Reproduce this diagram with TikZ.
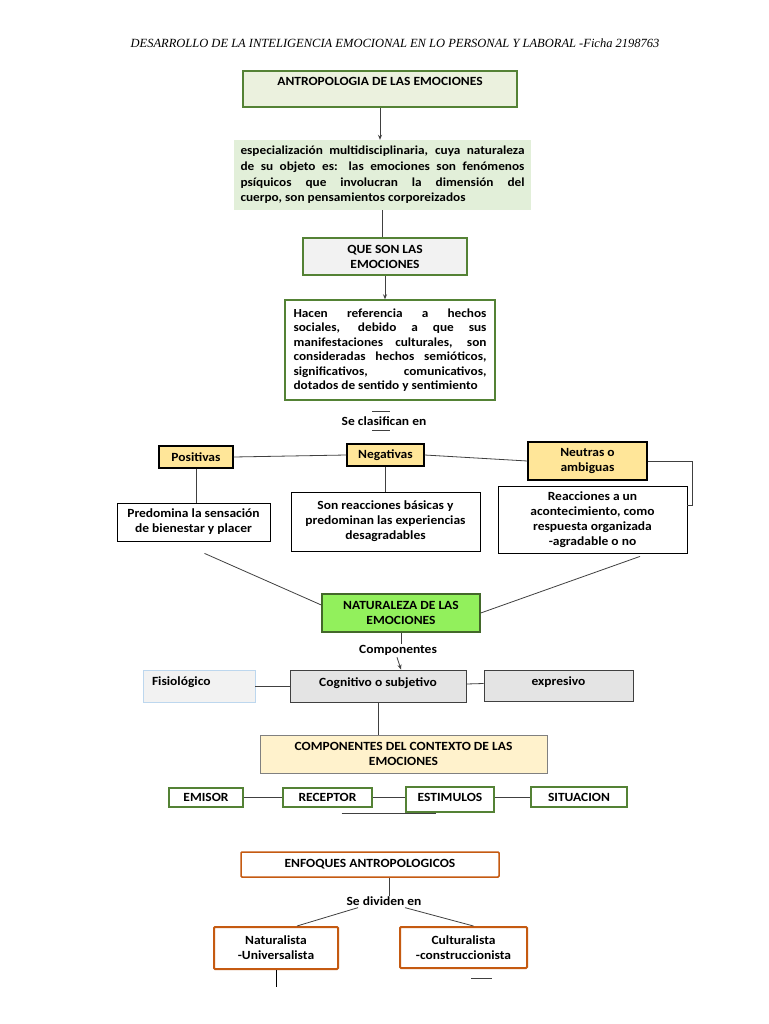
\documentclass[tikz,border=0pt]{standalone}
\usepackage{fontspec}
\setmainfont{Carlito}[FakeStretch=1.08]
\newfontfamily\headfont{Liberation Serif}
\usetikzlibrary{arrows.meta}
\definecolor{boxgreen}{HTML}{548235}
\definecolor{antrofill}{HTML}{EBF1DE}
\definecolor{objfill}{HTML}{E2EFD9}
\definecolor{grayfill}{HTML}{F2F2F2}
\definecolor{yellowfill}{HTML}{FFE699}
\definecolor{brightgreen}{HTML}{92F05C}
\definecolor{cogfill}{HTML}{E4E4E4}
\definecolor{fisioline}{HTML}{BDD7EE}
\definecolor{contextfill}{HTML}{FFF2CC}
\definecolor{orangeline}{HTML}{C55A11}
\definecolor{linegray}{HTML}{404040}
\begin{document}
\begin{tikzpicture}[x=1pt,y=-1pt,
    every node/.style={font=\bfseries\fontsize{12.5}{15}\selectfont,inner sep=2pt}]
    \tikzstyle{gbox}=[draw=boxgreen,line width=1.4pt,align=center]
    \tikzstyle{ybox}=[draw=black,line width=1.4pt,fill=yellowfill,align=center]
    \tikzstyle{wbox}=[draw=black,line width=0.8pt,fill=white,align=center]
    \tikzstyle{cbox}=[draw=linegray,line width=0.9pt,fill=cogfill,align=center]
    \tikzstyle{obox}=[draw=orangeline,line width=2pt,rounded corners=1pt,align=center]
    \tikzstyle{conn}=[draw=linegray,line width=0.8pt]
    \tikzstyle{arr}=[conn,-{Stealth[length=5pt,width=4pt]}]
    \useasboundingbox[fill=white] (0,0) rectangle (768,1024);
    \node[font=\headfont\itshape\fontsize{12.5}{14}\selectfont] (title) at (395,43)
        {DESARROLLO DE LA INTELIGENCIA EMOCIONAL EN LO PERSONAL Y LABORAL -Ficha 2198763};
    \node[gbox,fill=antrofill,minimum width=274,minimum height=36,text height=9pt,text depth=16pt] (antro) at (380,89) {ANTROPOLOGIA DE LAS EMOCIONES};
    \node[fill=objfill,minimum width=297,minimum height=70,text width=284,align=justify,
        font=\bfseries\fontsize{12.3}{15.6}\selectfont] (objeto) at (382.5,175)
        {especialización multidisciplinaria, cuya naturaleza\linebreak de su objeto es: las emociones son fenómenos\linebreak psíquicos que involucran la dimensión del\linebreak cuerpo, son pensamientos corporeizados};
    \node[gbox,fill=grayfill,minimum width=164,minimum height=37] (queson) at (385,256.5) {QUE SON LAS\\EMOCIONES};
    \node[gbox,fill=white,minimum width=210,minimum height=100,text width=193,align=justify,
        font=\bfseries\fontsize{12.3}{14.5}\selectfont] (hacen) at (390,350)
        {Hacen referencia a hechos\linebreak sociales, debido a que sus\linebreak manifestaciones culturales, son\linebreak consideradas hechos semióticos,\linebreak significativos, comunicativos,\linebreak dotados de sentido y sentimiento};
    \node (clasif) at (384,421) {Se clasifican en};
    \node[ybox,minimum width=74,minimum height=22] (posit) at (196,457) {Positivas};
    \node[ybox,minimum width=77,minimum height=22] (negat) at (385.5,455) {Negativas};
    \node[ybox,minimum width=119,minimum height=38] (neutr) at (587.5,461) {Neutras o\\ambiguas};
    \node[wbox,minimum width=153,minimum height=38] (predom) at (193.5,522) {Predomina la sensación\\de bienestar y placer};
    \node[wbox,minimum width=189,minimum height=59] (basicas) at (385.5,521.5) {Son reacciones básicas y\\predominan las experiencias\\desagradables};
    \node[wbox,minimum width=189,minimum height=67] (reacc) at (592.5,519.5) {Reacciones a un\\acontecimiento, como\\respuesta organizada\\-agradable o no};
    \node[gbox,draw=boxgreen!80!black,fill=brightgreen,minimum width=158,minimum height=38] (natur) at (401,613) {NATURALEZA DE LAS\\EMOCIONES};
    \node (compon) at (398,650) {Componentes};
    \node[draw=fisioline,line width=0.8pt,fill=grayfill,minimum width=112,minimum height=32,text width=94,align=left,text height=9pt,text depth=10pt] (fisio) at (199,686) {Fisiológico};
    \node[cbox,minimum width=176,minimum height=32,text height=9pt,text depth=8pt] (cognit) at (378,686) {Cognitivo o subjetivo};
    \node[cbox,minimum width=149,minimum height=31,text height=9pt,text depth=10pt] (expres) at (558.5,685.5) {expresivo};
    \node[draw=gray,line width=0.8pt,fill=contextfill,minimum width=287,minimum height=38,align=center] (context) at (403.5,754) {COMPONENTES DEL CONTEXTO DE LAS\\EMOCIONES};
    \node[gbox,minimum width=74,minimum height=19] (emisor) at (206,797.5) {EMISOR};
    \node[gbox,minimum width=89,minimum height=19] (recep) at (327.5,797.5) {RECEPTOR};
    \node[gbox,minimum width=88,minimum height=25,text height=9pt,text depth=6pt] (estim) at (450,799.5) {ESTIMULOS};
    \node[gbox,minimum width=96,minimum height=20] (situa) at (579,797) {SITUACION};
    \node[obox,line width=1.5pt,minimum width=258,minimum height=25] (enfoq) at (370,864.5) {ENFOQUES ANTROPOLOGICOS};
    \node (divid) at (384,901) {Se dividen en};
    \node[obox,minimum width=124,minimum height=42] (natural) at (276,948) {Naturalista\\-Universalista};
    \node[obox,minimum width=127,minimum height=41] (cultur) at (463.5,947.5) {Culturalista\\-construccionista};
    \draw[arr] (antro.south) -- (antro.south |- objeto.north);
    \draw[conn] (objeto.south) -- (objeto.south |- queson.north);
    \draw[arr] (queson.south) -- (queson.south |- hacen.north);
    \draw[conn] (clasif.north) ++(-12,-3) -- ++(18,0);
    \draw[conn] (clasif.south) ++(-12,3) -- ++(18,0);
    \draw[conn] (posit.east) -- (negat.west);
    \draw[conn] (negat.east) -- (neutr.west);
    \coordinate (rbend) at (692,505);
    \draw[conn] (neutr.east) -| (rbend) -- (reacc.east |- rbend);
    \draw[conn] (posit.south) -- (posit.south |- predom.north);
    \draw[conn] (negat.south) -- (negat.south |- basicas.north);
    \draw[conn] ([shift={(11,12)}]predom.south) -- ([yshift=8pt]natur.west);
    \draw[conn] ([shift={(47.5,3)}]reacc.south) -- (natur.east);
    \draw[conn] (natur.south) -- ++(0,11);
    \draw[arr] ([xshift=-1pt]compon.south) -- ([xshift=23pt]cognit.north);
    \draw[conn] (fisio.east) -- (cognit.west);
    \draw[conn] ([yshift=2pt]cognit.east) -- ([yshift=2pt]expres.west);
    \draw[conn] (cognit.south) -- (cognit.south |- context.north);
    \draw[conn] (emisor) -- (recep);
    \draw[conn] (recep) -- (estim.west |- recep);
    \draw[conn] (estim.east |- situa) -- (situa);
    \draw[conn] (recep.south) ++(14,6) -- ++(94,0);
    \draw[conn] ([xshift=19pt]enfoq.south) -- ++(0,18);
    \draw[conn] ([xshift=-26pt]divid.south) -- ([xshift=21pt]natural.north);
    \draw[conn] ([xshift=21pt]divid.south) -- ([xshift=10pt]cultur.north);
    \draw[conn,draw=black] (natural.south) -- ++(0,17);
    \draw[conn] (cultur.south) ++(7.5,9) -- ++(21,0);
\end{tikzpicture}
\end{document}
